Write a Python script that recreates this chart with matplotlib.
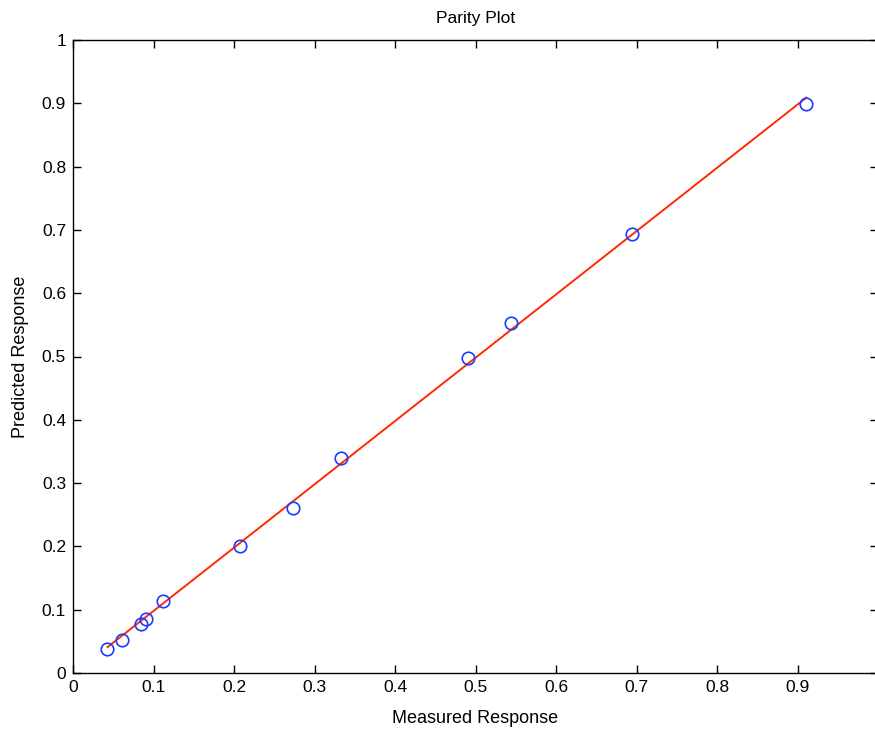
import matplotlib.pyplot as plt
import numpy as np

# Measured vs predicted values
measured = [0.042, 0.061, 0.084, 0.091, 0.112, 0.208, 0.273, 0.333, 0.491, 0.544, 0.694, 0.911]
predicted = [0.038, 0.052, 0.078, 0.085, 0.114, 0.201, 0.260, 0.339, 0.498, 0.553, 0.694, 0.899]

# fitted line end points
fit_x = [0.043, 0.911]
fit_y = [0.041, 0.909]

x_ticks = [0, 0.1, 0.2, 0.3, 0.4, 0.5, 0.6, 0.7, 0.8, 0.9]
y_ticks = [0, 0.1, 0.2, 0.3, 0.4, 0.5, 0.6, 0.7, 0.8, 0.9, 1]

plt.rcParams['font.family'] = ['Liberation Sans', 'DejaVu Sans']

fig = plt.figure(figsize=(8.75, 7.3), dpi=100)
# axes right edge runs past the image border, like the reference crop
ax = fig.add_axes([73 / 875, 57 / 730, 805 / 875, 633 / 730])

ax.plot(fit_x, fit_y, color='#ff2a00', linewidth=1.4)
ax.plot(measured, predicted, 'o', markersize=9, markerfacecolor='none',
        markeredgecolor='#1a3cff', markeredgewidth=1.2)

ax.set_xlim(0, 1)
ax.set_ylim(0, 1)
ax.set_xticks(x_ticks)
ax.set_yticks(y_ticks)
ax.set_xticklabels([f'{t:g}' for t in x_ticks])
ax.set_yticklabels([f'{t:g}' for t in y_ticks])
ax.tick_params(direction='in', length=6, width=1, top=True, right=True,
               labelsize=12.5, pad=5)
for s in ax.spines.values():
    s.set_linewidth(1)

ax.set_xlabel('Measured Response', fontsize=13, labelpad=11)
ax.set_ylabel('Predicted Response', fontsize=13, labelpad=9)
ax.set_title('Parity Plot', fontsize=12.5, pad=12)

fig.savefig('out.png', dpi=100)
